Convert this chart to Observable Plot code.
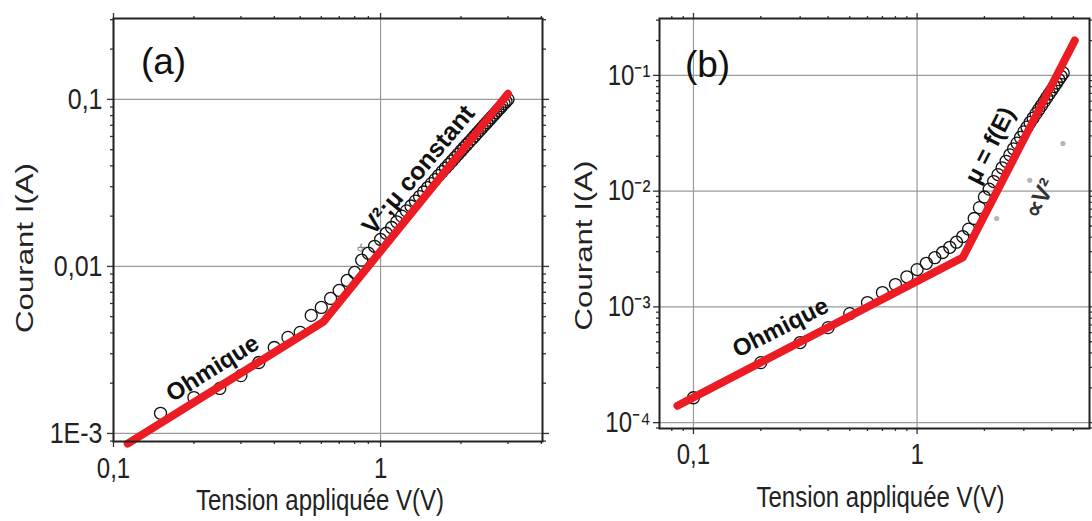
<!DOCTYPE html>
<html>
<head>
<meta charset="utf-8">
<script src="https://cdn.jsdelivr.net/npm/d3@7"></script>
<script src="https://cdn.jsdelivr.net/npm/@observablehq/plot@0.6"></script>
<style>
  html, body { margin: 0; padding: 0; background: #fff; }
  #fig { position: relative; width: 1092px; height: 521px; overflow: hidden; }
  #fig svg { position: absolute; top: 0; overflow: visible; background: none; }
</style>
</head>
<body>
<div id="fig"></div>
<script>
// ---------- Panel (a): measured I(V) and two-regime fit ----------
const voltsA = [
  0.15, 0.20, 0.25, 0.30, 0.35, 0.40, 0.45, 0.50, 0.55, 0.60, 0.65, 0.70, 0.75, 0.80, 0.85,
  0.90, 0.95, 1.00, 1.05, 1.10, 1.15, 1.20, 1.25, 1.30, 1.35, 1.40, 1.45, 1.50, 1.55, 1.60,
  1.65, 1.70, 1.75, 1.80, 1.85, 1.90, 1.95, 2.00, 2.05, 2.10, 2.15, 2.20, 2.25, 2.30, 2.35,
  2.40, 2.45, 2.50, 2.55, 2.60, 2.65, 2.70, 2.75, 2.80, 2.85, 2.90, 2.95, 3.00
];
const currentA = [
  1.32e-3, 1.64e-3, 1.86e-3, 2.22e-3, 2.66e-3, 3.27e-3, 3.76e-3, 4.03e-3, 5.09e-3, 5.68e-3,
  6.43e-3, 7.18e-3, 8.24e-3, 9.20e-3, 1.09e-2,
  1.20e-2, 1.32e-2, 1.45e-2, 1.58e-2, 1.71e-2, 1.85e-2, 2.00e-2, 2.15e-2, 2.30e-2, 2.46e-2,
  2.62e-2, 2.79e-2, 2.96e-2, 3.13e-2, 3.31e-2, 3.50e-2, 3.69e-2, 3.88e-2, 4.08e-2, 4.28e-2,
  4.48e-2, 4.69e-2, 4.91e-2, 5.13e-2, 5.35e-2, 5.57e-2, 5.80e-2, 6.04e-2, 6.28e-2, 6.52e-2,
  6.76e-2, 7.02e-2, 7.27e-2, 7.52e-2, 7.79e-2, 8.05e-2, 8.32e-2, 8.59e-2, 8.87e-2, 9.15e-2,
  9.44e-2, 9.72e-2, 1.00e-1
];
const fitVoltsA = [0.113, 0.61, 3.0];
const fitCurrentA = [8.7e-4, 4.65e-3, 0.108];
const xTicksA = [0.1, 1];
const xTickLabelsA = ["0,1", "1"];
const yTicksA = [0.001, 0.01, 0.1];
const yTickLabelsA = ["1E-3", "0,01", "0,1"];

// ---------- Panel (b): measured I(V), fit and V² guide ----------
const voltsB = [
  0.1, 0.2, 0.3, 0.4, 0.5, 0.6, 0.7, 0.8, 0.9, 1.0, 1.1, 1.2, 1.3, 1.4, 1.5, 1.6, 1.7, 1.8,
  1.9, 2.0, 2.1, 2.2, 2.3, 2.4, 2.5, 2.6, 2.7, 2.8, 2.9, 3.0, 3.1, 3.2, 3.3, 3.4, 3.5, 3.6,
  3.7, 3.8, 3.9, 4.0, 4.1, 4.2, 4.3, 4.4, 4.5
];
const currentB = [
  1.64e-4, 3.30e-4, 4.92e-4, 6.62e-4, 8.75e-4, 1.09e-3, 1.33e-3, 1.56e-3, 1.82e-3, 2.10e-3,
  2.38e-3, 2.66e-3, 2.95e-3, 3.27e-3, 3.62e-3, 4.05e-3, 4.70e-3, 5.80e-3, 7.20e-3, 8.90e-3,
  1.04e-2, 1.21e-2, 1.39e-2, 1.59e-2, 1.81e-2, 2.06e-2, 2.32e-2, 2.60e-2, 2.91e-2, 3.25e-2,
  3.57e-2, 3.92e-2, 4.28e-2, 4.67e-2, 5.07e-2, 5.50e-2, 5.96e-2, 6.44e-2, 6.94e-2, 7.46e-2,
  8.01e-2, 8.59e-2, 9.20e-2, 9.83e-2, 1.05e-1
];
const fitVoltsB = [0.0848, 1.60, 5.07];
const fitCurrentB = [1.40e-4, 2.67e-3, 0.200];
const guideVoltsB = [2.27, 3.19, 4.49];
const guideCurrentB = [5.8e-3, 1.24e-2, 2.58e-2];
const xTicksB = [0.1, 1];
const xTickLabelsB = ["0,1", "1"];
const yTicksB = [1e-4, 1e-3, 1e-2, 1e-1];
const yTickLabelsB = ["10⁻⁴", "10⁻³", "10⁻²", "10⁻¹"];

const xTitle = "Tension appliquée V(V)";
const yTitle = "Courant I(A)";

// ---------- drawing ----------
const FONT = "'Liberation Sans', Arial, Helvetica, sans-serif";
const RED = "#ec1c24";
const H = 521;

const rows = (xs, ys) => xs.map((x, i) => ({ V: x, I: ys[i] }));

// 2..9 multiples of each decade inside [lo, hi]
function minorTicks([lo, hi]) {
  const out = [];
  for (let e = Math.floor(Math.log10(lo)); e <= Math.ceil(Math.log10(hi)); e++) {
    for (let m = 2; m <= 9; m++) {
      const v = +(m * Math.pow(10, e)).toPrecision(6);
      if (v >= lo && v <= hi) out.push(v);
    }
  }
  return out;
}

function frameAxes(o) {
  const ink = { stroke: "#333", strokeWidth: 1.3 };
  const fmt = (ticks, labels) => (d) => labels[ticks.indexOf(d)] ?? "";
  const xm = minorTicks(o.xDomain), ym = minorTicks(o.yDomain);
  return [
    Plot.axisX({ ticks: o.xTicks, anchor: "bottom", tickSize: 6, tickPadding: o.xPad,
      tickFormat: fmt(o.xTicks, o.xTickLabels), fontSize: 24, fill: "#222", label: null, ...ink }),
    Plot.axisX({ ticks: xm, anchor: "bottom", tickSize: 3, fill: "none", label: null, ...ink }),
    Plot.axisX({ ticks: o.xTicks, anchor: "top", tickSize: 6, fill: "none", label: null, ...ink }),
    Plot.axisX({ ticks: xm, anchor: "top", tickSize: 3, fill: "none", label: null, ...ink }),
    Plot.axisY({ ticks: o.yTicks, anchor: "left", tickSize: 6, tickPadding: o.yPad,
      tickFormat: fmt(o.yTicks, o.yTickLabels), fontSize: o.yFont, fill: "#222", label: null, ...ink }),
    Plot.axisY({ ticks: ym, anchor: "left", tickSize: 3, fill: "none", label: null, ...ink }),
    Plot.axisY({ ticks: o.yTicks, anchor: "right", tickSize: 6, fill: "none", label: null, ...ink }),
    Plot.axisY({ ticks: ym, anchor: "right", tickSize: 3, fill: "none", label: null, ...ink }),
    Plot.frame({ stroke: "#222", strokeWidth: 2 })
  ];
}

// Lettering is tall and narrow: stretch each text vertically about its anchor.
function stretchText(svg) {
  svg.querySelectorAll("text").forEach((t) => {
    if (t.closest(".note")) return;
    const k = t.closest(".ytitle") ? 1.3 : 1.2;
    const tr = t.getAttribute("transform");
    if (tr && /^translate\(/.test(tr)) {
      t.setAttribute("transform", tr.replace(/^(translate\([^)]*\))/, `$1 scale(1,${k})`));
    } else {
      const x = +(t.getAttribute("x") || 0), y = +(t.getAttribute("y") || 0);
      t.setAttribute("transform", `translate(${x},${y}) scale(1,${k}) translate(${-x},${-y})${tr ? " " + tr : ""}`);
    }
  });
}

function panel(o) {
  const svg = Plot.plot({
    width: o.width, height: H,
    marginTop: o.margin[0], marginRight: o.margin[1], marginBottom: o.margin[2], marginLeft: o.margin[3],
    style: { fontFamily: FONT, background: "none", overflow: "visible", color: "#222" },
    x: { type: "log", domain: o.xDomain, label: null },
    y: { type: "log", domain: o.yDomain, label: null },
    marks: [
      Plot.gridX(o.xTicks, { stroke: "#9a9a9a", strokeOpacity: 1, strokeWidth: 1.2 }),
      Plot.gridY(o.yTicks, { stroke: "#9a9a9a", strokeOpacity: 1, strokeWidth: 1.2 }),
      ...(o.under || []),
      Plot.dot(o.points, { x: "V", y: "I", r: 6, stroke: "#111", strokeWidth: 1.3, fill: "none" }),
      Plot.line(o.fit, { x: "V", y: "I", stroke: RED, strokeWidth: 8, strokeLinecap: "round", strokeLinejoin: "round" }),
      ...frameAxes(o),
      Plot.text([o.tag], { frameAnchor: "top-left", dx: o.tagAt[0], dy: o.tagAt[1], text: (d) => d,
        textAnchor: "middle", lineAnchor: "middle", fontSize: 37, fill: "#111", className: "note" }),
      Plot.text([xTitle], { frameAnchor: "bottom", dx: o.xTitleAt[0], dy: o.xTitleAt[1], text: (d) => d,
        textAnchor: "middle", lineAnchor: "middle", fontSize: 24, fill: "#222" }),
      Plot.text([yTitle], { frameAnchor: "left", dx: o.yTitleAt[0], dy: o.yTitleAt[1], text: (d) => d,
        textAnchor: "middle", lineAnchor: "middle", rotate: -90, fontSize: 24, fill: "#222", className: "ytitle" }),
      ...o.notes
    ]
  });
  stretchText(svg);
  svg.style.left = o.left + "px";
  document.getElementById("fig").appendChild(svg);
}

const bold = { fontSize: 24, fontWeight: "bold", fill: "#111", text: (d) => d, className: "note" };

panel({
  left: 0, width: 560, margin: [18, 18, 80, 113],
  xDomain: [0.1, 4.04], yDomain: [8.95e-4, 0.305],
  xTicks: xTicksA, xTickLabels: xTickLabelsA, yTicks: yTicksA, yTickLabels: yTickLabelsA,
  xPad: 10, yPad: 5, yFont: 25,
  points: rows(voltsA, currentA), fit: rows(fitVoltsA, fitCurrentA),
  tag: "(a)", tagAt: [50, 44],
  xTitleAt: [-8, 59], yTitleAt: [-88, 18],
  notes: [
    Plot.text(["Ohmique"], { x: 0.235, y: 2.45e-3, rotate: -32, ...bold }),
    Plot.text(["∝"], { x: 0.841, y: 0.0130, rotate: -50, fontSize: 15, fill: "#777", text: (d) => d, className: "note" }),
    Plot.text(["V²;μ constant"], { x: 0.93, y: 0.0150, rotate: -50, dx: -5, dy: -6, textAnchor: "start", ...bold, fontSize: 25 })
  ]
});

panel({
  left: 540, width: 552, margin: [18, 3, 93, 119],
  xDomain: [0.0705, 5.9], yDomain: [8.9e-5, 0.31],
  xTicks: xTicksB, xTickLabels: xTickLabelsB, yTicks: yTicksB, yTickLabels: yTickLabelsB,
  xPad: 9, yPad: 3, yFont: 24,
  points: rows(voltsB, currentB), fit: rows(fitVoltsB, fitCurrentB),
  under: [
    Plot.dot(rows(guideVoltsB, guideCurrentB), { x: "V", y: "I", r: 2.6, fill: "#b5b5b5", stroke: "none" })
  ],
  tag: "(b)", tagAt: [48, 47],
  xTitleAt: [6, 69], yTitleAt: [-75, 22],
  notes: [
    Plot.text(["Ohmique"], { x: 0.245, y: 6.62e-4, rotate: -27, ...bold }),
    Plot.text(["μ = f(E)"], { x: 2.16, y: 0.0238, rotate: -63, dx: -2, dy: -2, ...bold }),
    Plot.text(["∝V²"], { x: 3.55, y: 8.6e-3, rotate: -63, ...bold, fill: "#333" })
  ]
});
</script>
</body>
</html>
